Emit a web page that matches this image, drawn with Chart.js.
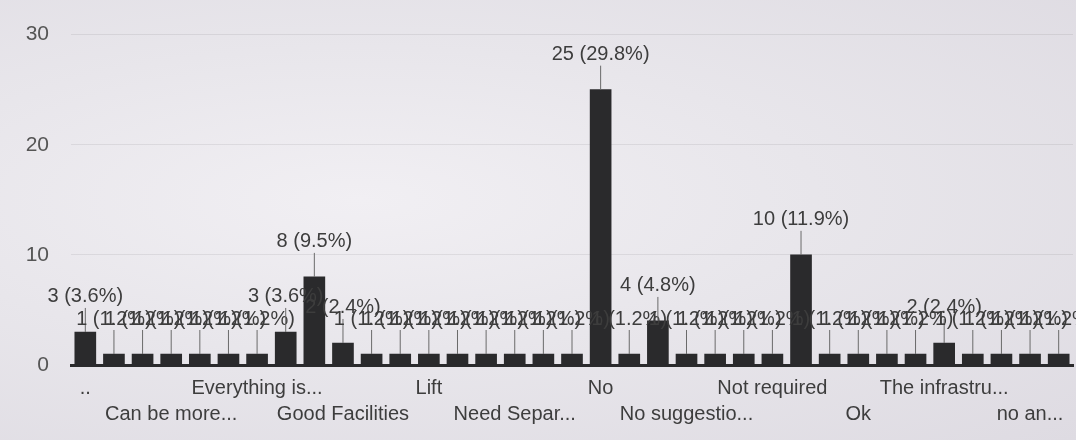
<!DOCTYPE html>
<html>
<head>
<meta charset="utf-8">
<script src="https://cdn.jsdelivr.net/npm/chart.js@4.4.1/dist/chart.umd.min.js"></script>
<style>
  body { margin: 0; background: radial-gradient(ellipse at 360px 200px, #f1eff3 0%, #e8e6eb 45%, #dedbe2 100%); }
  #wrap { width: 1076px; height: 440px; position: relative; }
</style>
</head>
<body>
<div id="wrap"><canvas id="responsesChart"></canvas></div>
<script>
// answers, sorted the way the form lists them; only every third one is printed on the axis
const categories = [
  '..', '', '', 'Can be more...', '', '', 'Everything is...', '', '',
  'Good Facilities', '', '', 'Lift', '', '', 'Need Separ...', '', '',
  'No', '', '', 'No suggestio...', '', '', 'Not required', '', '',
  'Ok', '', '', 'The infrastru...', '', '', 'no an...', ''
];
const counts = [
  3, 1, 1, 1, 1, 1, 1, 3, 8, 2, 1, 1, 1, 1, 1, 1, 1, 1,
  25, 1, 4, 1, 1, 1, 1, 10, 1, 1, 1, 1, 2, 1, 1, 1, 1
];
const yTicks = [0, 10, 20, 30];

const total = counts.reduce((a, b) => a + b, 0);
const FONT = '"Liberation Sans", Arial, sans-serif';

// "n (p%)" annotation with a little stem above every bar
const barNotes = {
  id: 'barNotes',
  afterDatasetsDraw(chart) {
    const ctx = chart.ctx;
    const meta = chart.getDatasetMeta(0);
    ctx.save();
    ctx.font = '20px ' + FONT;
    ctx.textAlign = 'center';
    ctx.textBaseline = 'middle';
    meta.data.forEach((bar, i) => {
      const v = counts[i];
      const top = bar.y;
      ctx.strokeStyle = '#6a6a6a';
      ctx.lineWidth = 1;
      ctx.beginPath();
      ctx.moveTo(bar.x, top);
      ctx.lineTo(bar.x, top - 24);
      ctx.stroke();
      ctx.fillStyle = '#3d3d3d';
      ctx.fillText(v + ' (' + (v / total * 100).toFixed(1) + '%)', bar.x, top - 35);
    });
    ctx.restore();
  }
};

const ctx = document.getElementById('responsesChart').getContext('2d');
new Chart(ctx, {
  type: 'bar',
  data: {
    labels: categories,
    datasets: [{
      data: counts,
      backgroundColor: '#2a2a2c',
      barThickness: 21
    }]
  },
  options: {
    responsive: true,
    maintainAspectRatio: false,
    animation: false,
    layout: { padding: { top: 20, right: 3, left: 0, bottom: 0 } },
    scales: {
      y: {
        min: 0, max: 30,
        afterBuildTicks: (s) => { s.ticks = yTicks.map(v => ({ value: v })); },
        afterFit: (s) => { s.width = 71; },
        ticks: {
          color: '#555',
          font: { size: 21, family: FONT },
          padding: 22
        },
        grid: { color: 'rgba(0,0,0,0.07)', drawTicks: false },
        border: { display: false }
      },
      x: {
        afterFit: (s) => { s.height = 75; },
        grid: { display: false },
        border: { color: '#2a2a2c', width: 3 },
        ticks: {
          autoSkip: false,
          maxRotation: 0,
          minRotation: 0,
          color: '#3d3d3d',
          padding: 2,
          font: { size: 20, family: FONT, lineHeight: 1.3 },
          callback: (val, i) => {
            const l = categories[i];
            if (!l) return '';
            return (i / 3) % 2 ? ['', l] : l;
          }
        }
      }
    },
    plugins: {
      legend: { display: false },
      tooltip: { enabled: false }
    }
  },
  plugins: [barNotes]
});
</script>
</body>
</html>
